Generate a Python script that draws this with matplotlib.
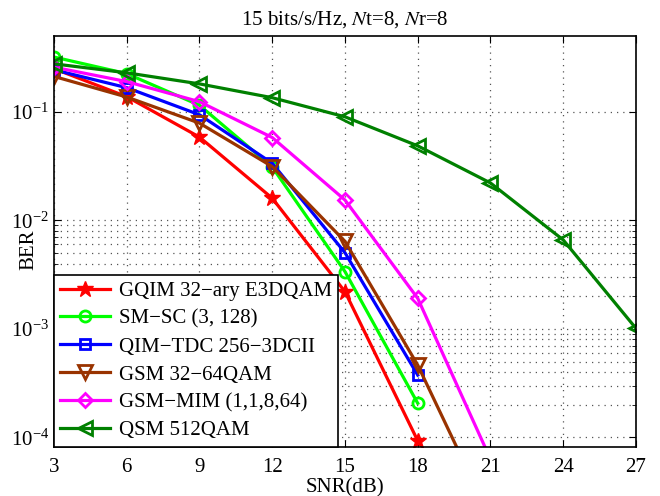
import matplotlib
matplotlib.use("Agg")
import matplotlib.pyplot as plt
from matplotlib.ticker import FixedLocator, NullFormatter
import numpy as np

plt.rcParams['font.family'] = ['Liberation Serif', 'DejaVu Serif']
plt.rcParams['mathtext.fontset'] = 'stix'

snr_a = [3, 6, 9, 12, 15, 18]
snr_b = [3, 6, 9, 12, 15, 18, 21]
snr_q = [3, 6, 9, 12, 15, 18, 21, 24, 27]

ber_gqim = [0.25, 0.138, 0.0585, 0.016, 0.0022, 9.3e-5]
ber_smsc = [0.32, 0.225, 0.115, 0.031, 0.00337, 2.06e-4]
ber_qim = [0.244, 0.167, 0.094, 0.0336, 0.00503, 3.75e-4]
ber_gsm = [0.212, 0.137, 0.0787, 0.0313, 0.0064, 4.63e-4, 1.8e-5]
ber_mim = [0.258, 0.19, 0.124, 0.058, 0.0154, 0.00191, 6.3e-5]
ber_qsm = [0.277, 0.229, 0.181, 0.135, 0.090, 0.0486, 0.0221, 0.0066, 0.00101]

labels = ['GQIM 32\u2212ary E3DQAM', 'SM\u2212SC (3, 128)', 'QIM\u2212TDC 256\u22123DCII',
          'GSM 32\u221264QAM', 'GSM\u2212MIM (1,1,8,64)', 'QSM 512QAM']
xticks = [3, 6, 9, 12, 15, 18, 21, 24, 27]
minor_decades = [1e-4, 1e-3]   # decades showing minor grid lines

fig = plt.figure(figsize=(6.6, 4.96), dpi=100)
ax = fig.add_axes([0.0818, 0.0994, 0.8818, 0.828])

lw = 2.3
ms = 8
ax.plot(snr_a, ber_gqim, color='#ff0000', marker='*', ms=ms + 4, lw=lw, label=labels[0])
ax.plot(snr_a, ber_smsc, color='#00ff00', marker='o', ms=ms, mfc='none', mew=2, lw=lw, label=labels[1])
ax.plot(snr_a, ber_qim, color='#0000ff', marker='s', ms=ms - 1, mfc='none', mew=2, lw=lw, label=labels[2])
ax.plot(snr_b, ber_gsm, color='#993300', marker='v', ms=ms + 2, mfc='none', mew=2, lw=lw, label=labels[3])
ax.plot(snr_b, ber_mim, color='#ff00ff', marker='D', ms=ms - 1, mfc='none', mew=2, lw=lw, label=labels[4])
ax.plot(snr_q, ber_qsm, color='#008000', marker='<', ms=ms + 2, mfc='none', mew=2, lw=lw, label=labels[5])

ax.set_yscale('log')
ax.set_xlim(3, 27)
ax.set_ylim(8.2e-5, 0.5)
ax.set_xticks(xticks)
ax.set_xticklabels([str(t) for t in xticks])
minors = [d * k for d in minor_decades for k in range(2, 10)]
ax.yaxis.set_minor_locator(FixedLocator(minors))
ax.yaxis.set_minor_formatter(NullFormatter())
ax.tick_params(axis='both', which='both', direction='in', top=True, right=True, labelsize=15)
ax.tick_params(axis='both', which='major', length=5)
ax.tick_params(axis='both', which='minor', length=3)
ax.tick_params(axis='x', which='major', pad=8)
ax.grid(True, which='major', linestyle=(0, (1, 4)), color='#555555', linewidth=0.9)
ax.grid(True, which='minor', axis='y', linestyle=(0, (1, 4)), color='#555555', linewidth=0.9)
for s in ax.spines.values():
    s.set_linewidth(1.2)

ax.set_title('15 bits/s/Hz, $N$t=8, $N$r=8', fontsize=15, pad=8)
ax.set_xlabel('SNR(dB)', fontsize=15, labelpad=1)
ax.set_ylabel('BER', fontsize=15)
ax.yaxis.set_label_coords(-0.027, 0.479)

leg = ax.legend(loc='lower left', fontsize=15, borderaxespad=0, fancybox=False,
                edgecolor='black', framealpha=1, handlelength=2.4, labelspacing=0.4,
                borderpad=0.3, handletextpad=0.4)
leg.get_frame().set_linewidth(1.2)

fig.savefig('out.png', dpi=100)
